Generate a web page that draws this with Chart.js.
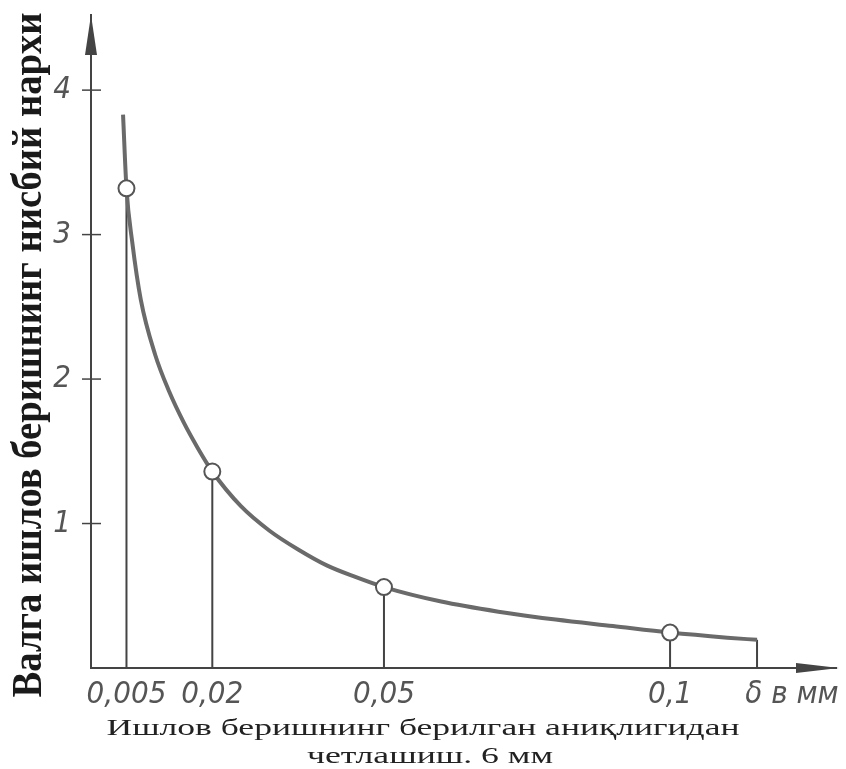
<!DOCTYPE html>
<html>
<head>
<meta charset="utf-8">
<script src="https://cdn.jsdelivr.net/npm/chart.js@4.4.1/dist/chart.umd.min.js"></script>
<style>
  html, body { margin: 0; padding: 0; background: #fff; }
  #wrap { width: 846px; height: 769px; }
</style>
</head>
<body>
<div id="wrap"><canvas id="chart"></canvas></div>
<script>
// curve (x in mm, y relative cost)
const curveX = [0.0044, 0.005, 0.006, 0.0075, 0.01, 0.0125, 0.015, 0.0175, 0.02, 0.025, 0.03, 0.035, 0.04, 0.045, 0.05, 0.06, 0.07, 0.08, 0.09, 0.1, 0.11, 0.1152];
const curveY = [3.83, 3.32, 2.95, 2.55, 2.17, 1.91, 1.70, 1.52, 1.36, 1.12, 0.95, 0.82, 0.71, 0.63, 0.56, 0.46, 0.39, 0.335, 0.29, 0.245, 0.21, 0.195];

// marked points
const pointX = [0.005, 0.02, 0.05, 0.1];
const pointY = [3.32, 1.36, 0.56, 0.245];

// vertical drop lines
const dropX = [0.005, 0.02, 0.05, 0.1, 0.1152];
const dropY = [3.32, 1.36, 0.56, 0.245, 0.195];

const xTickValues = [0.005, 0.02, 0.05, 0.1, 0.1213];
const xTickLabels = ['0,005', '0,02', '0,05', '0,1', 'δ в мм'];
const yTickValues = [1, 2, 3, 4];

const yTitle = 'Валга ишлов беришнинг нисбий нархи';
const xTitle = ['Ишлов беришнинг берилган аниқлигидан', 'четлашиш. 6 мм'];

const ink = '#444';

let dropData = [];
for (let i = 0; i < dropX.length; i++) {
    dropData.push({x: dropX[i], y: 0});
    dropData.push({x: dropX[i], y: dropY[i]});
    dropData.push({x: NaN, y: NaN});
}

// arrows, cross ticks and the stretched titles
const decor = {
    id: 'decor',
    afterDraw: function (chart) {
        const ctx = chart.ctx;
        const ys = chart.scales.y;
        const ax = chart.chartArea.left, ay = chart.chartArea.bottom;
        ctx.save();
        ctx.fillStyle = ink;
        ctx.strokeStyle = ink;
        // y arrow
        ctx.beginPath();
        ctx.moveTo(ax, chart.chartArea.top);
        ctx.lineTo(ax - 6, chart.chartArea.top + 40);
        ctx.lineTo(ax + 6, chart.chartArea.top + 40);
        ctx.closePath();
        ctx.fill();
        // x arrow
        ctx.beginPath();
        ctx.moveTo(chart.chartArea.right + 3, ay);
        ctx.lineTo(chart.chartArea.right - 40, ay - 5);
        ctx.lineTo(chart.chartArea.right - 40, ay + 5);
        ctx.closePath();
        ctx.fill();
        // cross ticks on the y axis
        ctx.lineWidth = 1.5;
        yTickValues.forEach(function (v) {
            let py = ys.getPixelForValue(v);
            ctx.beginPath();
            ctx.moveTo(ax - 9, py);
            ctx.lineTo(ax + 10, py);
            ctx.stroke();
        });
        // y title, rotated and stretched like the scan
        ctx.fillStyle = '#1a1a1a';
        ctx.font = 'bold 30px "Liberation Serif", serif';
        ctx.textAlign = 'center';
        ctx.textBaseline = 'middle';
        let w = ctx.measureText(yTitle).width;
        ctx.save();
        ctx.translate(30, 355);
        ctx.rotate(-Math.PI / 2);
        ctx.scale(685 / w, 1.4);
        ctx.fillText(yTitle, 0, 0);
        ctx.restore();
        // x title, two lines
        ctx.fillStyle = '#222';
        ctx.font = '24px "Liberation Serif", serif';
        let lines = [[xTitle[0], 423, 729, 633], [xTitle[1], 430, 757, 246]];
        lines.forEach(function (l) {
            let tw = ctx.measureText(l[0]).width;
            ctx.save();
            ctx.translate(l[1], l[2]);
            ctx.scale(l[3] / tw, 1);
            ctx.fillText(l[0], 0, 0);
            ctx.restore();
        });
        ctx.restore();
    }
};

const tickFont = {family: "'Liberation Sans Narrow', 'DejaVu Sans Condensed', 'Liberation Sans', sans-serif", size: 31, style: 'italic'};

function noPad(scale) {
    scale.paddingTop = 0;
    scale.paddingBottom = 0;
    scale.paddingLeft = 0;
    scale.paddingRight = 0;
}

new Chart(document.getElementById('chart'), {
    type: 'scatter',
    data: {
        datasets: [
            {
                data: pointX.map((x, i) => ({x: x, y: pointY[i]})),
                pointRadius: 8,
                pointBackgroundColor: '#fff',
                pointBorderColor: '#555',
                pointBorderWidth: 2,
                showLine: false,
                order: 0
            },
            {
                data: curveX.map((x, i) => ({x: x, y: curveY[i]})),
                showLine: true,
                borderColor: '#6a6a6a',
                borderWidth: 4,
                pointRadius: 0,
                cubicInterpolationMode: 'monotone',
                order: 1
            },
            {
                data: dropData,
                showLine: true,
                spanGaps: false,
                borderColor: ink,
                borderWidth: 2,
                pointRadius: 0,
                order: 2
            }
        ]
    },
    options: {
        responsive: true,
        maintainAspectRatio: false,
        animation: false,
        layout: {padding: {left: 0, top: 15, right: 6, bottom: 0}},
        plugins: {
            legend: {display: false},
            title: {display: false},
            tooltip: {enabled: false}
        },
        scales: {
            x: {
                type: 'linear',
                min: -0.0012,
                max: 0.129,
                grid: {display: false, drawTicks: false},
                border: {display: true, color: ink, width: 2},
                afterFit: function (scale) { scale.height = 101; noPad(scale); },
                afterBuildTicks: function (scale) {
                    scale.ticks = xTickValues.map(v => ({value: v}));
                },
                ticks: {
                    autoSkip: false,
                    maxRotation: 0,
                    padding: 8,
                    color: '#555',
                    font: tickFont,
                    callback: function (value, index) { return xTickLabels[index]; }
                }
            },
            y: {
                type: 'linear',
                min: 0,
                max: 4.52,
                grid: {display: false, drawTicks: false},
                border: {display: true, color: ink, width: 2},
                afterFit: function (scale) { scale.width = 91; noPad(scale); },
                afterBuildTicks: function (scale) {
                    scale.ticks = yTickValues.map(v => ({value: v}));
                },
                ticks: {
                    padding: 20,
                    color: '#555',
                    font: tickFont,
                    callback: function (value) { return String(value); }
                }
            }
        }
    },
    plugins: [decor]
});
</script>
</body>
</html>
